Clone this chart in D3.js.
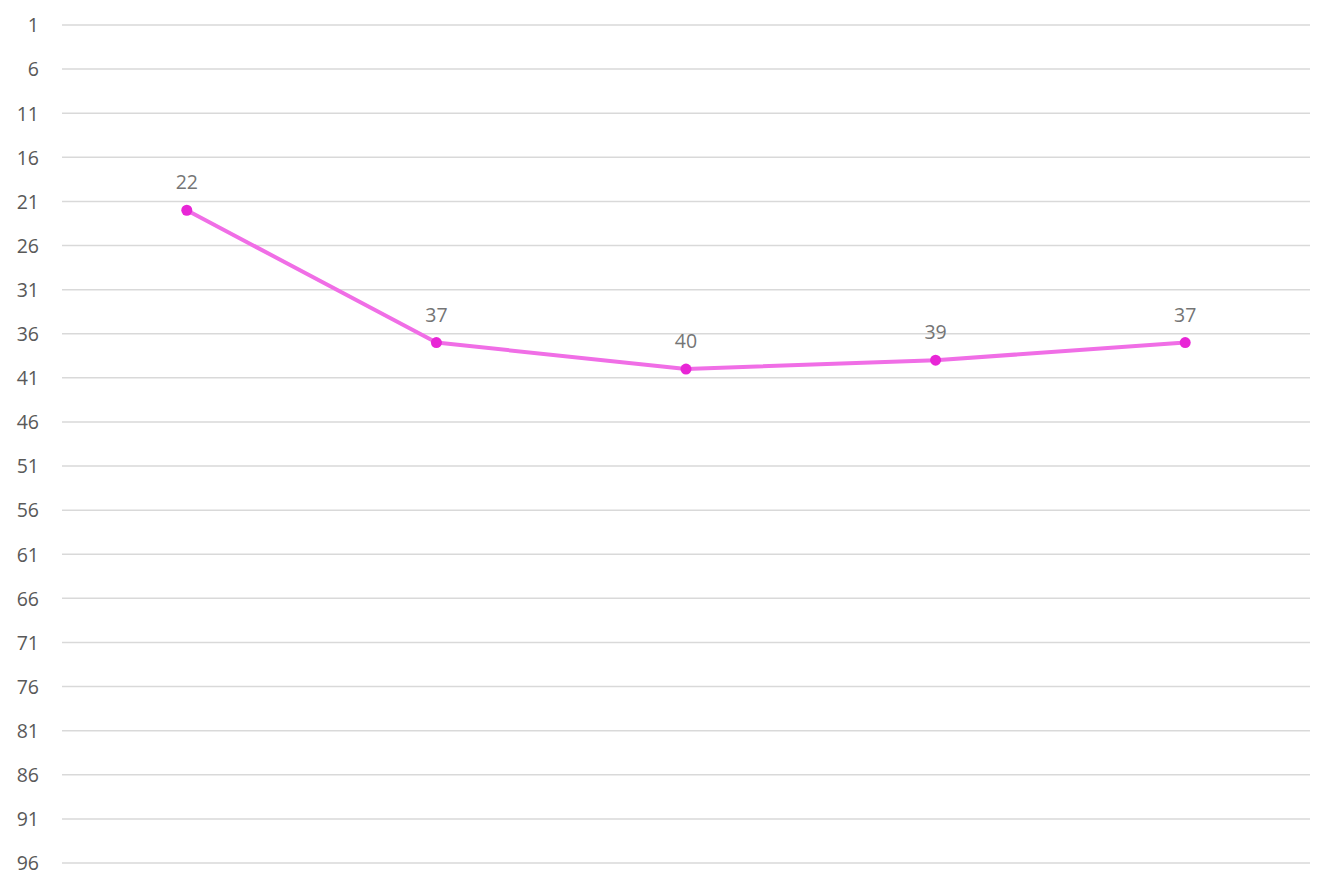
<!DOCTYPE html>
<html>
<head>
<meta charset="utf-8">
<script src="https://cdn.jsdelivr.net/npm/d3@7"></script>
<style>
  body { margin: 0; background: #fff; }
  text { font-family: "Open Sans", sans-serif; }
</style>
</head>
<body>
<div id="chart"></div>
<script>
const categories = ['A', 'B', 'C', 'D', 'E'];
const values = [22, 37, 40, 39, 37];
const yTicks = [1, 6, 11, 16, 21, 26, 31, 36, 41, 46, 51, 56, 61, 66, 71, 76, 81, 86, 91, 96];

const width = 1334;
const height = 889;
const margin = { top: 25, right: 24, bottom: 26, left: 62 };
const innerWidth = width - margin.left - margin.right;
const innerHeight = height - margin.top - margin.bottom;

const svg = d3.select('#chart')
    .append('svg')
    .attr('width', width)
    .attr('height', height)
    .append('g')
    .attr('transform', `translate(${margin.left},${margin.top})`);

const xScale = d3.scaleBand()
    .domain(categories)
    .range([0, innerWidth]);

// reversed axis: 1 at top
const yScale = d3.scaleLinear()
    .domain([1, 96])
    .range([0, innerHeight]);

// gridlines
svg.append('g')
    .selectAll('line')
    .data(yTicks)
    .enter()
    .append('line')
    .attr('x1', 0)
    .attr('x2', innerWidth)
    .attr('y1', d => yScale(d))
    .attr('y2', d => yScale(d))
    .attr('stroke', '#d9d9d9')
    .attr('stroke-width', 1.5);

const yAxis = d3.axisLeft(yScale).tickValues(yTicks).tickSize(0).tickPadding(23);
svg.append('g')
    .call(yAxis)
    .call(g => g.select('.domain').remove())
    .selectAll('text')
    .attr('fill', '#595959')
    .attr('dy', '0.35em')
    .style('font-size', '19.5px');

const line = d3.line()
    .x((d, i) => xScale(categories[i]) + xScale.bandwidth() / 2)
    .y(d => yScale(d));

svg.append('path')
    .datum(values)
    .attr('d', line)
    .attr('fill', 'none')
    .attr('stroke', '#f06ee6')
    .attr('stroke-width', 4)
    .attr('stroke-linejoin', 'round');

svg.selectAll('circle')
    .data(values)
    .enter()
    .append('circle')
    .attr('cx', (d, i) => xScale(categories[i]) + xScale.bandwidth() / 2)
    .attr('cy', d => yScale(d))
    .attr('r', 5.5)
    .attr('fill', '#e826d6');

svg.selectAll('.label')
    .data(values)
    .enter()
    .append('text')
    .attr('class', 'label')
    .attr('x', (d, i) => xScale(categories[i]) + xScale.bandwidth() / 2)
    .attr('y', d => yScale(d) - 21)
    .attr('text-anchor', 'middle')
    .attr('fill', '#757575')
    .style('font-size', '19.5px')
    .text(d => d);
</script>
</body>
</html>
